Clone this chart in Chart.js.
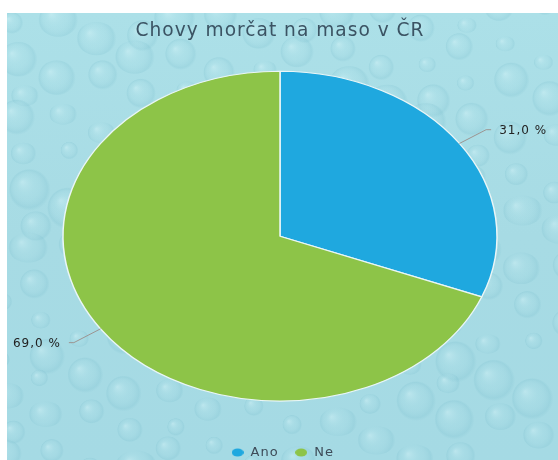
<!DOCTYPE html>
<html><head><meta charset="utf-8">
<script src="https://cdn.jsdelivr.net/npm/chart.js@4/dist/chart.umd.min.js"></script>
<style>html,body{margin:0;padding:0;background:#fff;} canvas{display:block;}</style>
</head><body>
<canvas id="c" width="558" height="460"></canvas>
<script>
const categories = ["Ano", "Ne"];
const values = [31.0, 69.0];
const sliceColors = ["#1fa8df", "#8dc448"];
const chartTitle = "Chovy morčat na maso v ČR";
const Y_SCALE = 0.76;

function fmt(v){ return v.toFixed(1).replace('.', ',') + ' %'; }

function ellipseMarker(color){
  const c = document.createElement('canvas'); c.width = 12; c.height = 9;
  const x = c.getContext('2d'); x.fillStyle = color; x.beginPath();
  x.ellipse(6, 4.5, 6, 4, 0, 0, Math.PI * 2); x.fill(); return c;
}
const markers = sliceColors.map(ellipseMarker);

// decorative water-drop texture for the backdrop (not data), evenly spread R2 sequence
function drawBackdrop(ctx){
  const X0 = 7, Y0 = 13, W = 551, H = 447;
  ctx.save();
  ctx.beginPath(); ctx.rect(X0, Y0, W, H); ctx.clip();
  const g = ctx.createLinearGradient(0, Y0, 0, Y0 + H);
  g.addColorStop(0, '#ace0e8'); g.addColorStop(0.5, '#a7dbe4'); g.addColorStop(1, '#a5dae4');
  ctx.fillStyle = g; ctx.fillRect(X0, Y0, W, H);
  const a1 = 0.7548776662, a2 = 0.5698402910;
  for (let i = 1; i <= 170; i++) {
    const fx = (0.5 + a1 * i) % 1, fy = (0.5 + a2 * i) % 1;
    const x = X0 - 10 + fx * (W + 20), y = Y0 - 10 + fy * (H + 20);
    const r = 9 + ((i * 7) % 13);
    const ry = r * (0.75 + ((i * 3) % 5) * 0.08);
    const rg = ctx.createRadialGradient(x - r * 0.35, y - ry * 0.35, 0.5, x, y, r);
    rg.addColorStop(0, 'rgba(225,250,253,0.35)');
    rg.addColorStop(0.5, 'rgba(180,228,236,0.08)');
    rg.addColorStop(0.88, 'rgba(120,188,204,0.22)');
    rg.addColorStop(1, 'rgba(120,188,204,0)');
    ctx.fillStyle = rg;
    ctx.beginPath(); ctx.ellipse(x, y, r, ry, 0, 0, Math.PI * 2); ctx.fill();
  }
  ctx.restore();
}

const bgPlugin = { id: 'bg', beforeDraw(chart){
  drawBackdrop(chart.ctx);
  chart.ctx.letterSpacing = '1px';
}};

const squash = { id: 'squash',
  beforeDatasetsDraw(chart){ const a = chart.getDatasetMeta(0).data[0]; const ctx = chart.ctx;
    ctx.save(); ctx.translate(0, a.y); ctx.scale(1, Y_SCALE); ctx.translate(0, -a.y); },
  afterDatasetsDraw(chart){ chart.ctx.restore(); }
};

const labelPlugin = { id: 'pctLabels', afterDatasetsDraw(chart){
  const ctx = chart.ctx; const meta = chart.getDatasetMeta(0);
  meta.data.forEach((arc, i) => {
    const mid = (arc.startAngle + arc.endAngle) / 2; const r = arc.outerRadius;
    const ex = arc.x + r * Math.cos(mid), ey = arc.y + r * Math.sin(mid) * Y_SCALE;
    const dx = ex - arc.x, dy = ey - arc.y, len = Math.hypot(dx, dy);
    const ux = dx / len, uy = dy / len;
    const bx = ex + ux * 30, by = ey + uy * 30; const right = ux >= 0;
    const hx = bx + (right ? 5 : -5);
    ctx.save(); ctx.strokeStyle = '#9c9592'; ctx.lineWidth = 1;
    ctx.beginPath(); ctx.moveTo(ex, ey); ctx.lineTo(bx, by); ctx.lineTo(hx, by); ctx.stroke();
    ctx.fillStyle = '#222'; ctx.font = '12px "DejaVu Sans"'; ctx.letterSpacing = '1px';
    ctx.textBaseline = 'middle'; ctx.textAlign = right ? 'left' : 'right';
    ctx.fillText(fmt(values[i]), hx + (right ? 8 : -8), by + 1); ctx.restore();
  });
}};

new Chart(document.getElementById('c'), {
  type: 'pie',
  data: { labels: categories, datasets: [{ data: values, backgroundColor: sliceColors,
    borderColor: '#eaf6f7', borderWidth: 1.5, radius: 217 }] },
  options: { responsive: false, animation: false, events: [],
    layout: { padding: { left: 2, right: 0, top: 0, bottom: -9 } },
    plugins: {
      title: { display: true, text: chartTitle, color: '#3b5363',
        font: { family: '"DejaVu Sans"', size: 18.6, weight: 'normal' }, padding: { top: 20, bottom: 0 } },
      legend: { position: 'bottom', labels: { usePointStyle: true, color: '#3d4b58', padding: 16,
        font: { family: '"DejaVu Sans"', size: 13 },
        generateLabels(chart){ return categories.map((c, i) => ({ text: c, fillStyle: sliceColors[i],
          strokeStyle: sliceColors[i], lineWidth: 0, pointStyle: markers[i], hidden: false, index: i, fontColor: '#3d4b58' })); } } },
      tooltip: { enabled: false }
    } },
  plugins: [bgPlugin, squash, labelPlugin]
});
</script>
</body></html>
